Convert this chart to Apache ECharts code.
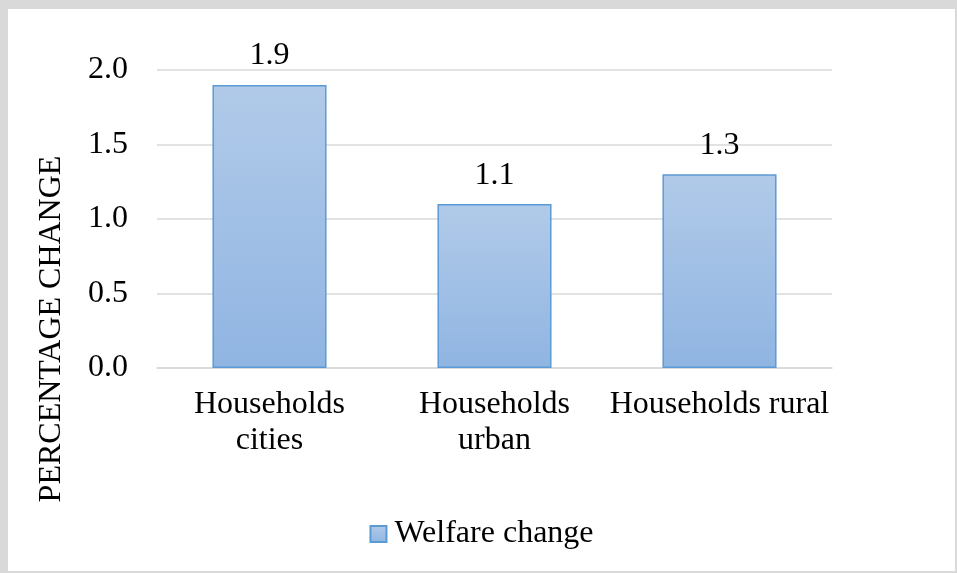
<!DOCTYPE html>
<html>
<head>
<meta charset="utf-8">
<script src="https://cdn.jsdelivr.net/npm/echarts@6/dist/echarts.min.js"></script>
<style>
  html, body { margin: 0; padding: 0; background: #fff; }
  #frame { position: absolute; left: 0; top: 0; width: 957px; height: 573px; box-sizing: border-box;
           border-left: 8px solid #d9d9d9; border-top: 9px solid #d9d9d9; border-right: 2px solid #d9d9d9; border-bottom: 2px solid #d9d9d9; }
  #chart { width: 947px; height: 562px; }
</style>
</head>
<body>
<div id="frame"><div id="chart"></div></div>
<script>
// Welfare change by household group (percentage)
const categories = ['Households\ncities', 'Households\nurban', 'Households rural'];
const welfareChange = [1.9, 1.1, 1.3];
const yTicks = [0, 0.5, 1.0, 1.5, 2.0];
const yTitle = 'PERCENTAGE CHANGE';

const serif = '"Liberation Serif", "Times New Roman", serif';
const chart = echarts.init(document.getElementById('chart'));
chart.setOption({
  animation: false,
  textStyle: { fontFamily: serif },
  grid: { left: 149, right: 123, top: 61, bottom: 203 },
  legend: {
    top: 504, left: 'center',
    itemWidth: 16, itemHeight: 16, itemGap: 4,
    textStyle: { fontFamily: serif, fontSize: 32, color: '#000', padding: [0, 0, 0, 3] },
    data: [{ name: 'Welfare change', icon: 'rect' }]
  },
  graphic: [{
    type: 'text',
    x: 44, y: 320,
    rotation: Math.PI / 2,
    style: {
      text: yTitle, fontFamily: serif, fontSize: 32, fill: '#000',
      align: 'center', verticalAlign: 'middle'
    }
  }],
  xAxis: {
    type: 'category',
    data: categories,
    axisLine: { lineStyle: { color: '#d9d9d9', width: 1.5 } },
    axisTick: { show: false },
    axisLabel: { fontFamily: serif, fontSize: 32, color: '#000', lineHeight: 36, margin: 19, interval: 0 }
  },
  yAxis: {
    type: 'value', min: 0, max: 2, interval: 0.5,
    axisLine: { show: false }, axisTick: { show: false },
    splitLine: { lineStyle: { color: '#d9d9d9', width: 1.5 } },
    axisLabel: {
      fontFamily: serif, fontSize: 32, color: '#000', margin: 29,
      formatter: v => yTicks.includes(v) ? v.toFixed(1) : ''
    }
  },
  series: [{
    name: 'Welfare change',
    type: 'bar',
    data: welfareChange,
    barWidth: '50.7%',
    itemStyle: {
      color: new echarts.graphic.LinearGradient(0, 0, 0, 1, [
        { offset: 0, color: '#b1cae9' },
        { offset: 1, color: '#90b5e2' }
      ]),
      borderColor: '#5b9bd5', borderWidth: 1.5
    },
    label: {
      show: true, position: 'top', distance: 13,
      fontFamily: serif, fontSize: 32, color: '#000',
      formatter: p => p.value.toFixed(1)
    }
  }]
});
</script>
</body>
</html>
